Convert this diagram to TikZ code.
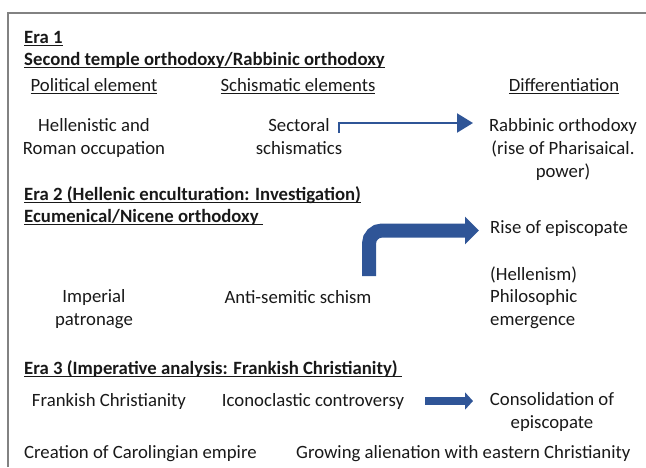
\documentclass[tikz,border=0pt]{standalone}
\usepackage{fontspec}
\setmainfont{Carlito}
\usepackage{xcolor}
\usetikzlibrary{positioning,arrows.meta}

\definecolor{arrblue}{RGB}{47,85,151}
\definecolor{txtgray}{RGB}{25,25,25}
\definecolor{framegray}{RGB}{130,130,130}

\newsavebox{\ulbox}
\newcommand{\ulin}[1]{\sbox{\ulbox}{#1}\rlap{\rule[-2.3pt]{\wd\ulbox}{1pt}}\usebox{\ulbox}}

\begin{document}
\begin{tikzpicture}[
  x=1pt, y=-1pt,
  font=\fontsize{18.75}{22.7}\selectfont,
  every node/.style={inner sep=0pt, text=txtgray},
  era/.style={anchor=base west, font=\fontsize{18.75}{22.7}\selectfont\bfseries},
  col/.style={anchor=base},
  txt/.style={anchor=base, align=center},
  arr/.style={draw=arrblue, line width=2.2pt, -{Triangle[length=16pt,width=19pt]}},
  fatarr/.style={draw=arrblue, line width=14pt, rounded corners=13pt,
                 -{Triangle[length=14pt,width=27pt]}},
  midarr/.style={draw=arrblue, line width=8pt, -{Triangle[length=8pt,width=17pt]}}
]
\useasboundingbox (0,0) rectangle (646,467);
\draw[framegray, line width=1.5pt] (8,467) |- (646,13);

% Era 1 (multi-line nodes sit on their last baseline)
\node[era] (era1)  at (24,43.5) {\ulin{Era 1}};
\node[era] (era1t) at (24,65.5) {\ulin{Second temple orthodoxy/Rabbinic orthodoxy}};
\node[col] (pol)   at (94,91.5)  {\ulin{Political element}};
\node[col] (sch)   at (298,91.5) {\ulin{Schismatic elements}};
\node[col] (dif)   at (564,91.5) {\ulin{Differentiation}};
\node[txt] (hel)   at (94,154)  {Hellenistic and\\Roman occupation};
\node[txt] (sect)  at (299,154) {Sectoral\\schismatics};
\node[txt] (rab)   at (563,177) {Rabbinic orthodoxy\\(rise of Pharisaical.\\power)};

% Era 2
\node[era] (era2)  at (24,200.5) {\ulin{Era 2 (Hellenic enculturation: Investigation)}};
\node[era] (era2t) at (24,222.5) {\ulin{Ecumenical/Nicene orthodoxy\ }};
\node[anchor=base west] (rise) at (490,233.5) {Rise of episcopate};
\node[anchor=base west, align=left] (phil) at (490,325.5) {(Hellenism)\\Philosophic\\emergence};
\node[txt] (imp)   at (94,325.5)  {Imperial\\patronage};
\node[txt] (anti)  at (298,303) {Anti-semitic schism};

% Era 3
\node[era] (era3)  at (24,374.5) {\ulin{Era 3 (Imperative analysis: Frankish Christianity)\ }};
\node[txt] (frank) at (109,406.5) {Frankish Christianity};
\node[txt] (icon)  at (313,406.5) {Iconoclastic controversy};
\node[txt] (cons)  at (552,428.5) {Consolidation of\\episcopate};
\node[anchor=base west] (carol) at (24,458.5)  {Creation of Carolingian empire};
\node[anchor=base west] (alien) at (296,458.5) {Growing alienation with eastern Christianity};

% arrows
\coordinate (a1s) at (339,133);
\coordinate (a1e) at (473,123);
\coordinate (a2s) at (369,276);
\coordinate (a2e) at (479,230.5);
\coordinate (a3s) at (425,401);
\coordinate (a3e) at (473,401);
\draw[arr] (a1s) |- (a1e);
\draw[fatarr] (a2s) |- (a2e);
\draw[midarr] (a3s) -- (a3e);
\end{tikzpicture}
\end{document}
